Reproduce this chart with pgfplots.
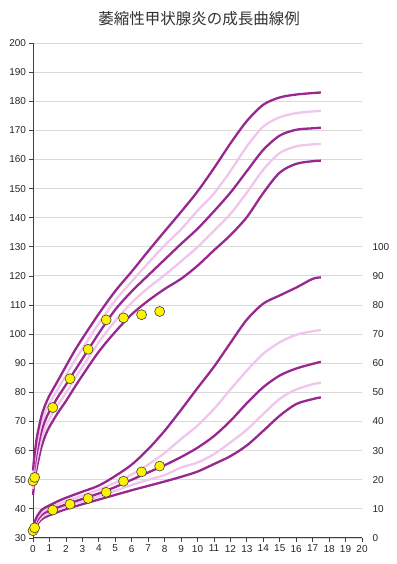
\documentclass[border=0pt]{standalone}
\usepackage{fontspec}
\setmainfont{Liberation Sans}
\newfontfamily\cjk{Noto Sans CJK JP}
\usepackage{pgfplots}
\pgfplotsset{compat=1.18}
\usepackage{pgfplotstable}
\definecolor{dp}{HTML}{982890}
\definecolor{lp}{HTML}{F1C6EC}
\definecolor{gridc}{HTML}{D9D9D9}
\definecolor{axc}{HTML}{404040}

\pgfplotstableread{
age  B2    B1    M     T1    T2
0    44.8  46.9  49.0  51.1  53.2
0.08 48.8  51.1  53.5  55.8  58.0
0.17 52.2  54.6  57.0  59.4  61.8
0.25 54.6  57.2  59.8  62.4  65.0
0.5  61.0  63.6  66.3  69.0  71.6
0.75 65.2  67.8  70.5  73.2  75.8
1    68.2  70.9  73.5  76.2  78.9
1.5  72.9  75.6  78.3  81.1  83.9
2    77.0  79.8  82.6  85.8  89.0
2.5  81.5  84.3  87.1  90.6  94.0
3    85.8  88.7  91.5  95.0  98.5
4    94.0  97.2  100.3 103.7 107.0
5    100.8 104.6 108.4 111.6 114.8
6    106.8 110.8 114.7 118.1 121.5
7    111.5 115.9 120.2 124.4 128.5
8    115.5 120.3 125.6 130.5 135.3
9    119.0 125.0 131.0 136.0 142.0
10   123.5 129.9 136.2 142.4 149.0
11   128.8 135.5 142.2 148.3 157.0
12   134.0 141.3 148.6 156.0 165.5
13   140.2 148.6 156.0 164.5 173.2
14   148.5 156.5 163.3 171.3 178.8
15   155.5 162.2 168.2 174.5 181.3
16   158.5 164.5 170.2 175.9 182.3
17   159.4 165.2 170.7 176.5 182.8
17.5 159.6 165.3 170.9 176.7 183.0
}\htab

\pgfplotstableread{
age  B2   B1   M    T1   T2
0    2.2  2.6  3.0  3.5  4.0
0.08 3.0  3.5  4.0  4.6  5.2
0.17 3.9  4.5  5.1  5.8  6.5
0.25 4.7  5.3  6.0  6.8  7.5
0.5  6.3  7.0  7.8  8.6  9.5
0.75 7.2  8.0  8.8  9.6  10.5
1    7.8  8.5  9.3  10.2 11.2
1.5  8.9  9.7  10.5 11.5 12.6
2    9.9  10.7 11.5 12.6 13.8
3    11.6 12.5 13.4 14.6 15.9
4    13.2 14.3 15.3 16.6 18.0
5    14.8 16.2 17.5 19.0 21.3
6    16.4 18.2 20.0 21.8 25.2
7    17.9 20.0 22.5 25.2 30.5
8    19.4 21.6 25.0 29.2 36.8
9    21.0 24.2 27.8 34.0 44.0
10   22.8 25.9 31.0 38.6 51.5
11   25.4 28.8 35.0 44.3 58.8
12   28.1 32.8 40.2 51.0 67.0
13   31.8 37.2 46.3 57.5 75.0
14   36.8 42.6 51.8 63.3 80.5
15   42.0 47.8 55.8 67.2 83.3
16   46.0 51.0 58.2 69.8 86.0
17   47.7 52.8 59.8 71.0 89.0
17.5 48.3 53.3 60.5 71.4 89.5
}\wtab

\pgfplotstableread{
age h
0    49.6
0.1  50.8
1.2  74.8
2.25 84.7
3.35 94.8
4.45 104.9
5.5  105.6
6.6  106.7
7.7  107.8
}\hpts

\pgfplotstableread{
age w
0    2.5
0.1  3.5
1.2  9.6
2.25 11.6
3.35 13.6
4.45 15.7
5.5  19.5
6.6  22.7
7.7  24.7
}\wpts

\pgfplotsset{
  dk/.style={color=dp, line width=2.3pt, no marks, smooth},
  pk/.style={color=lp, line width=2.3pt, no marks, smooth},
  pt/.style={only marks, mark=*, mark size=5pt, mark options={fill=yellow, draw=axc, line width=0.6pt}},
}

\begin{document}
\begin{tikzpicture}
\path[use as bounding box, fill=white] (0pt,0pt) rectangle (396pt,564pt);
\node[font=\cjk\fontsize{15.5}{18}\selectfont, text=black!80] at (199pt,545pt) {萎縮性甲状腺炎の成長曲線例};
\begin{axis}[
  at={(33pt,26pt)}, anchor=south west,
  scale only axis, width=329pt, height=495pt,
  xmin=0, xmax=20, ymin=30, ymax=200,
  xtick={0,1,...,20}, ytick={30,40,...,200},
  axis x line*=bottom, axis y line*=left,
  axis line style={color=axc, line width=1pt, -},
  tick style={color=axc, line width=0.8pt},
  major tick length=3.5pt, tick align=outside,
  ymajorgrids, grid style={color=gridc, line width=0.9pt},
  tick label style={font=\fontsize{10}{12}\selectfont, text=black!85},
  /pgf/number format/assume math mode=true,
  clip=false,
]
\addplot[dk] table[x=age,y=B2] {\htab};
\addplot[pk] table[x=age,y=B1] {\htab};
\addplot[dk] table[x=age,y=M] {\htab};
\addplot[pk] table[x=age,y=T1] {\htab};
\addplot[dk] table[x=age,y=T2] {\htab};
\addplot[pt] table[x=age,y=h] {\hpts};
\end{axis}
\begin{axis}[
  at={(33pt,26pt)}, anchor=south west,
  scale only axis, width=329pt, height=495pt,
  xmin=0, xmax=20, ymin=0, ymax=170,
  axis x line=none,
  axis y line*=right,
  y axis line style={draw=none},
  ytick={0,10,...,100},
  major tick length=0pt,
  ytick style={draw=none},
  yticklabel style={font=\fontsize{10}{12}\selectfont, text=black!85, xshift=7pt},
  /pgf/number format/assume math mode=true,
  clip=false,
]
\addplot[dk] table[x=age,y=B2] {\wtab};
\addplot[pk] table[x=age,y=B1] {\wtab};
\addplot[dk] table[x=age,y=M] {\wtab};
\addplot[pk] table[x=age,y=T1] {\wtab};
\addplot[dk] table[x=age,y=T2] {\wtab};
\addplot[pt] table[x=age,y=w] {\wpts};
\end{axis}
\end{tikzpicture}
\end{document}
